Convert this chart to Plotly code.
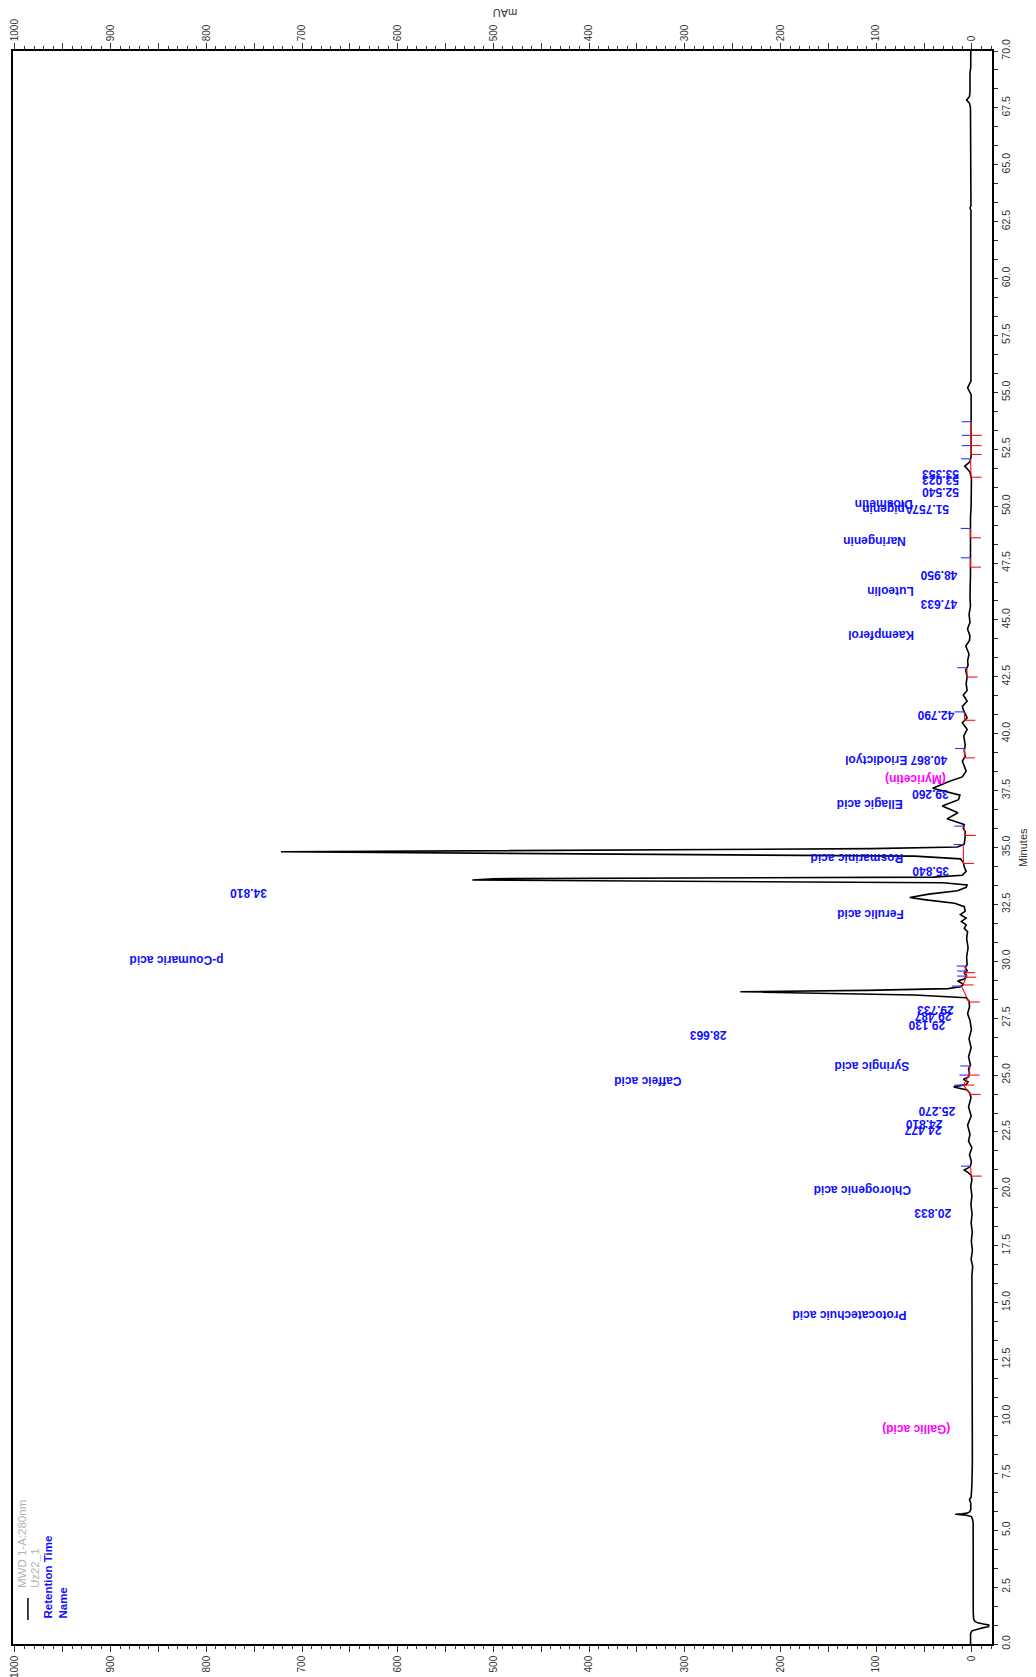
import numpy as np
import plotly.graph_objects as go

# ---------------- data ----------------
time_min = [0.00, 0.45, 0.58, 0.66, 0.72, 0.76, 0.84, 0.88, 0.93, 1.00, 1.10, 1.40, 2.50, 3.40, 3.50,
            4.60, 5.30, 5.45, 5.60, 5.66, 5.70, 5.72, 5.75, 5.80, 5.90, 6.20, 6.35, 6.45, 7.00, 8.00,
            9.50, 11.00, 12.50, 14.00, 15.50, 16.20, 16.60, 16.90, 17.30, 17.70, 18.10, 18.50, 18.90,
            19.30, 19.70, 20.10, 20.40, 20.60, 20.75, 20.83, 20.92, 21.00, 21.20, 21.50, 21.80, 22.10,
            22.40, 22.80, 23.20, 23.60, 24.00, 24.20, 24.35, 24.48, 24.58, 24.70, 24.81, 24.92, 25.10,
            25.27, 25.45, 25.80, 26.20, 26.60, 27.00, 27.40, 27.70, 28.00, 28.25, 28.40, 28.52, 28.66,
            28.72, 28.80, 28.88, 28.97, 29.05, 29.13, 29.22, 29.35, 29.49, 29.58, 29.73, 29.85, 30.20,
            30.60, 31.00, 31.30, 31.45, 31.60, 31.75, 31.90, 32.05, 32.20, 32.40, 32.55, 32.70, 32.80,
            32.95, 33.10, 33.25, 33.35, 33.45, 33.57, 33.63, 33.70, 33.78, 33.95, 34.15, 34.35, 34.50,
            34.62, 34.81, 34.88, 34.95, 35.02, 35.15, 35.50, 35.70, 35.84, 36.01, 36.26, 36.53, 36.82,
            37.10, 37.30, 37.60, 37.90, 38.10, 38.35, 38.60, 38.80, 39.00, 39.26, 39.50, 39.90, 40.19,
            40.48, 40.70, 40.87, 41.00, 41.20, 41.43, 41.70, 41.90, 42.20, 42.50, 42.79, 43.00, 43.20,
            43.50, 43.85, 44.10, 44.30, 44.60, 44.90, 45.25, 45.60, 46.00, 47.00, 47.63, 48.00, 48.95,
            49.50, 50.00, 51.20, 51.50, 51.76, 51.95, 52.20, 52.54, 53.02, 53.35, 54.00, 54.90, 55.20,
            55.50, 56.00, 58.40, 58.50, 60.00, 63.00, 63.10, 63.20, 67.50, 67.70, 67.85, 68.00, 68.20,
            69.00, 69.30, 70.00]
signal_mau = [1.4, 1.4, 0.0, -6, -12, -17.5, -17.5, -12, -6, -3, -1.8, -1.4, -1.4, -1.6, -1.2,
              -1.2, -1.3, -0.8, 0.5, 6, 17.5, 10, 5, 2.5, 1.2, 1.2, 2.5, 0.8, 0.0, -0.5,
              -0.5, -0.5, -0.4, -0.5, -0.3, 0.0, -0.8, 0.8, -0.5, 0.6, -0.4, 0.8, -0.2,
              1.0, 0.0, 1.2, 0.0, 0.8, 5, 8, 4, 1.5, 0.5, 2.5, 0.0, 3.5,
              2.0, 4.5, 0.8, 3.5, 1.0, 2.0, 5, 19, 6, 4, 9, 3.5, 2.5,
              3.5, 1.5, 3.5, 0.8, 3.0, 0.5, 2.0, 4.5, 2.5, 3.0, 6, 60, 242,
              110, 25, 12, 9, 11, 15, 8, 5.5, 8, 5, 7, 5, 5.5,
              4, 5.5, 4.5, 8, 6, 11, 6, 12, 7, 8, 18, 48, 65,
              45, 15, 6, 5, 30, 522, 500, 40, 10, 6, 8, 9, 12,
              60, 722, 445, 105, 15, 8, 7, 7, 9, 8, 26, 14.6, 31,
              14, 12.5, 41, 24, 10, 6, 8, 10, 7, 8, 7, 8.5, 5,
              10, 5, 7, 8.5, 10, 5, 9, 5, 6, 5, 6.5, 4, 4.5,
              3, 6.4, 2.5, 2, 4.6, 2, 3, 1.5, 2, 1.5, 1.6, 1.5, 1.6,
              1.5, 0.8, 0.5, 2, 7.5, 2, 0.8, 0.8, 0.7, 0.7, 0.5, 0.8, 4.5,
              1.0, 1.0, 1.2, 0.5, 1.0, 1.0, 2, 1.0, 1.5, 2.5, 5.5, 2.5, 2,
              2, 1.2, 1.2]

# integration marks: peak start (red) and peak end (blue), minutes
peak_start_min = [20.56, 24.15, 24.56, 25.00, 28.21, 28.96, 29.30, 29.50, 34.30, 35.53,
                  38.94, 40.59, 42.49, 47.32, 48.61, 51.27, 52.27, 52.66, 53.11]
peak_end_min = [21.00, 24.56, 25.00, 25.40, 28.91, 29.35, 29.57, 29.79, 35.13, 35.94,
                39.35, 40.96, 42.90, 47.73, 49.02, 52.08, 52.66, 53.11, 53.71]

# peak labels
label_text = ["Protocatechuic acid", "Chlorogenic acid", "20.833", "24.477", "24.810", "25.270",
              "Caffeic acid", "Syringic acid", "28.663", "29.130", "29.487", "29.733",
              "p-Coumaric acid", "Ferulic acid", "34.810", "35.840", "Rosmarinic acid",
              "Ellagic acid", "39.260", "(Myricetin)", "40.867 Eriodictyol", "42.790",
              "Kaempferol", "47.633", "Luteolin", "48.950", "Naringenin", "Diosmetin",
              "51.757", "Apigenin", "52.540", "53.023", "53.353", "(Gallic acid)"]
label_mau = [128.2, 114.9, 41.1, 50.9, 49.8, 36.9,
             338.2, 104.8, 275.5, 47.3, 40.4, 38.7,
             831.4, 106.1, 756.5, 43.2, 120.5,
             106.6, 43.9, 59.6, 78.7, 37.9,
             94.4, 34.2, 85.7, 34.2, 102.4, 92.0,
             43.2, 87.4, 33.4, 33.4, 33.4, 58.3]
label_min = [14.49, 19.94, 18.93, 22.59, 22.88, 23.43,
             24.71, 25.37, 26.79, 27.23, 27.57, 27.89,
             30.06, 32.08, 32.97, 33.94, 34.53,
             36.91, 37.38, 38.01, 38.85, 40.79,
             44.34, 45.70, 46.24, 46.97, 48.44, 50.09,
             49.85, 49.85, 50.59, 51.12, 51.44, 9.48]
label_magenta = {"(Myricetin)", "(Gallic acid)"}

mau_ticks = list(range(0, 1001, 50))
mau_ticktext = [str(v) if v % 100 == 0 else "" for v in mau_ticks]
min_ticks = [i * 2.5 for i in range(29)]
min_ticktext = [f"{v:.1f}" for v in min_ticks]

# ---------------- figure ----------------
FONT = "Liberation Sans, Arial, sans-serif"
BLUE = "#1010ff"
fig = go.Figure()

T = np.array(time_min)
V = np.array(signal_mau)

# red baselines and red start ticks, blue end ticks
rx, ry, bx, by = [], [], [], []
for ts, te in zip(peak_start_min, peak_end_min):
    vs = float(np.interp(ts, T, V))
    ve = float(np.interp(te, T, V))
    rx += [vs - 11, vs, None, vs, ve, None]
    ry += [ts, ts, None, ts, te, None]
    bx += [ve + 10, ve, None]
    by += [te, te, None]

fig.add_trace(go.Scatter(x=signal_mau, y=time_min, mode="lines",
                         line=dict(color="black", width=1.6), hoverinfo="skip",
                         showlegend=False))
fig.add_trace(go.Scatter(x=rx, y=ry, mode="lines", line=dict(color="#ff1010", width=1.1),
                         hoverinfo="skip", showlegend=False))
fig.add_trace(go.Scatter(x=bx, y=by, mode="lines", line=dict(color="#3030ff", width=1.1),
                         hoverinfo="skip", showlegend=False))
# invisible trace to activate the top mAU axis
fig.add_trace(go.Scatter(x=[0], y=[0], xaxis="x2", mode="markers", marker=dict(opacity=0),
                         hoverinfo="skip", showlegend=False))

for txt, xm, ym in zip(label_text, label_mau, label_min):
    fig.add_annotation(x=xm, y=ym, xref="x", yref="y", text=txt, showarrow=False,
                       textangle=180, xanchor="center", yanchor="middle",
                       font=dict(family=FONT, size=12, weight="bold",
                                 color="#ff00ff" if txt in label_magenta else BLUE))

# legend block (bottom-left)
fig.add_shape(type="line", x0=986.4, x1=986.4, y0=1.05, y1=2.02, xref="x", yref="y",
              line=dict(color="black", width=1.5))
legend_items = [("MWD 1-A:280nm", 992.7, 2.37, "#b4b4b4", "normal"),
                ("Uz22_1", 979.0, 2.37, "#b4b4b4", "normal"),
                ("Retention Time", 965.5, 1.05, BLUE, "bold"),
                ("Name", 949.8, 1.05, BLUE, "bold")]
for txt, xm, ym, col, wt in legend_items:
    fig.add_annotation(x=xm, y=ym, xref="x", yref="y", text=txt, showarrow=False,
                       textangle=-90, xanchor="center", yanchor="bottom",
                       font=dict(family=FONT, size=11.5, weight=wt, color=col))

# axis titles
fig.add_annotation(x=0.5027, y=1.0239, xref="paper", yref="paper", text="mAU", showarrow=False,
                   textangle=180, xanchor="center", yanchor="middle",
                   font=dict(family=FONT, size=11, color="#333333"))
fig.add_annotation(x=1.0317, y=0.4997, xref="paper", yref="paper", text="Minutes", showarrow=False,
                   textangle=-90, xanchor="center", yanchor="middle",
                   font=dict(family=FONT, size=11, color="#333333"))

xcommon = dict(range=[1002, -21], tickmode="array", tickvals=mau_ticks, ticktext=mau_ticktext,
               tickangle=-90, ticks="outside", ticklen=6, tickwidth=1, tickcolor="#333333",
               minor=dict(tickmode="linear", tick0=0, dtick=10, ticks="outside", ticklen=3,
                          tickwidth=1, tickcolor="#333333"),
               showline=True, linecolor="black", linewidth=1.5, showgrid=False, zeroline=False,
               automargin=False,
               tickfont=dict(family=FONT, size=10, color="#333333"))

fig.update_layout(
    width=1036, height=1677,
    margin=dict(l=13, r=44, t=51, b=33, autoexpand=False),
    paper_bgcolor="white", plot_bgcolor="white",
    showlegend=False,
    xaxis=dict(side="bottom", **xcommon),
    xaxis2=dict(side="top", overlaying="x", anchor="y", matches="x", **xcommon),
    yaxis=dict(range=[0, 70], side="right", tickmode="array", tickvals=min_ticks,
               ticktext=min_ticktext, tickangle=-90, ticks="outside", ticklen=4, tickwidth=1,
               tickcolor="#333333",
               minor=dict(tickmode="linear", tick0=0, dtick=2.5 / 3, ticks="outside", ticklen=4,
                          tickwidth=1, tickcolor="#333333"),
               showline=True, mirror=True, linecolor="black", linewidth=1.5, showgrid=False,
               zeroline=False, automargin=False,
               tickfont=dict(family=FONT, size=10.5, color="#333333")),
)

# remove the page's default body margin so the figure sits at the window's top-left corner
fig.write_html("out.html", config={"displayModeBar": False},
               post_script="document.body.style.margin='0';document.body.style.overflow='hidden';")
